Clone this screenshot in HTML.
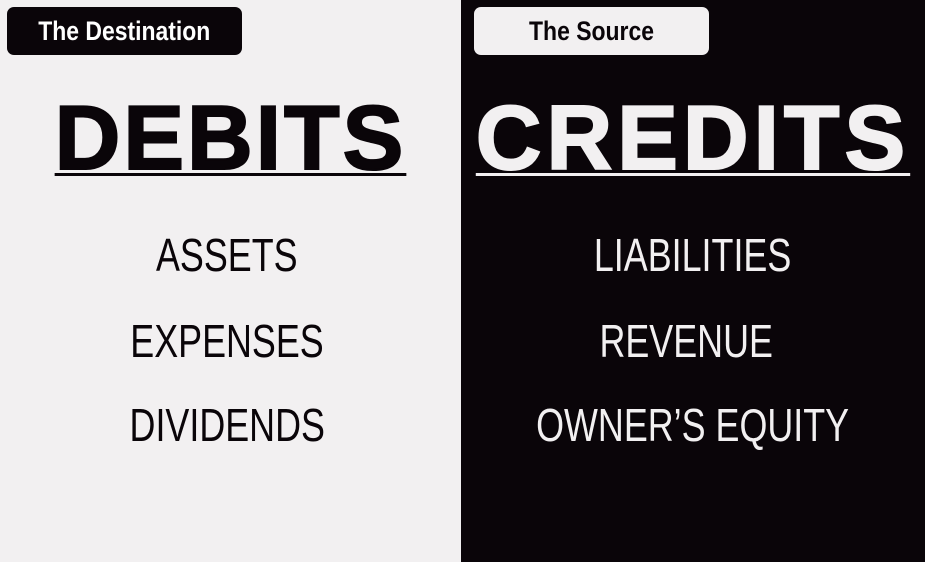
<!DOCTYPE html>
<html><head><meta charset="utf-8"><style>
body{margin:0;width:925px;height:562px;overflow:hidden;position:relative;font-family:"Liberation Sans",sans-serif}
.panel{position:absolute;top:0;height:562px}
.tab{position:absolute;top:7px;width:235px;height:48px;border-radius:7px;display:flex;align-items:center;justify-content:center;font-weight:bold;font-size:27px}
.tab span{display:inline-block;transform:scaleX(.85)}
.big{position:absolute;top:89px;height:100px;font-weight:bold;font-size:91px;line-height:100px;text-align:center;text-decoration:underline;text-decoration-thickness:3px;text-underline-offset:4px}
.item{position:absolute;width:460px;text-align:center;font-size:46px;line-height:46px}
.item span{display:inline-block;transform:scaleX(.78)}
</style></head><body>
<div class="panel" style="left:0;width:461px;background:#f2f0f1"></div>
<div class="panel" style="left:461px;width:464px;background:#0a0509"></div>
<div class="tab" style="left:7px;background:#0a0509;color:#fff"><span>The Destination</span></div>
<div class="tab" style="left:474px;background:#f2f0f1;color:#0a0509"><span>The Source</span></div>
<div class="big" style="left:0;width:461px;color:#0a0509;letter-spacing:3px;-webkit-text-stroke:2px #0a0509">DEBITS</div>
<div class="big" style="left:461px;width:464px;color:#f2f0f1;letter-spacing:5px;-webkit-text-stroke:2px #f2f0f1">CREDITS</div>
<div class="item" style="left:-3px;top:232px;color:#0a0509"><span>ASSETS</span></div>
<div class="item" style="left:-3px;top:318px;color:#0a0509"><span>EXPENSES</span></div>
<div class="item" style="left:-3px;top:402px;color:#0a0509"><span>DIVIDENDS</span></div>
<div class="item" style="left:463px;top:232px;color:#f2f0f1"><span>LIABILITIES</span></div>
<div class="item" style="left:456px;top:318px;color:#f2f0f1"><span>REVENUE</span></div>
<div class="item" style="left:463px;top:402px;color:#f2f0f1"><span>OWNER’S EQUITY</span></div>
</body></html>
